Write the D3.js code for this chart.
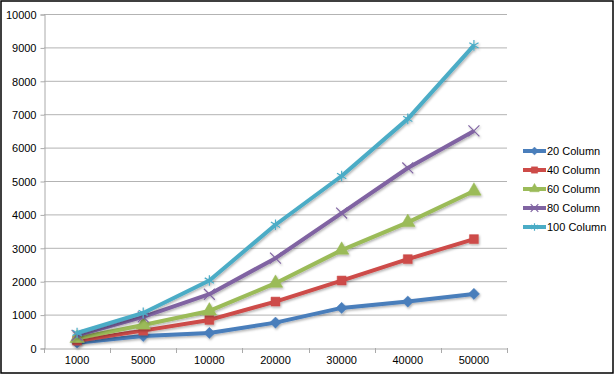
<!DOCTYPE html>
<html>
<head>
<meta charset="utf-8">
<script src="https://cdn.jsdelivr.net/npm/d3@7"></script>
<style>
  body { margin: 0; background: #fff; }
  text { font-family: "Liberation Sans", Arial, sans-serif; font-size: 11px; fill: #000; }
</style>
</head>
<body>
<main></main>
<script>
// Data
const CATEGORIES = ['1000', '5000', '10000', '20000', '30000', '40000', '50000'];
const SERIES_NAMES = ['20 Column', '40 Column', '60 Column', '80 Column', '100 Column'];
const COL20 = [160, 360, 450, 760, 1200, 1390, 1620];
const COL40 = [220, 520, 840, 1390, 2020, 2660, 3260];
const COL60 = [290, 690, 1110, 1940, 2930, 3760, 4700];
const COL80 = [380, 930, 1610, 2690, 4040, 5390, 6500];
const COL100 = [450, 1050, 2020, 3690, 5150, 6860, 9060];
const Y_TICKS = [0, 1000, 2000, 3000, 4000, 5000, 6000, 7000, 8000, 9000, 10000];
const COLORS = ['#4a7ebb', '#cd4b48', '#9bbb59', '#8064a2', '#4bacc6'];
const MARKERS = [d3.symbolDiamond2, d3.symbolSquare, d3.symbolTriangle, d3.symbolX, d3.symbolAsterisk];

const WIDTH = 615;
const HEIGHT = 375;
const LEFT = 44, RIGHT = 507, TOP = 14, BOTTOM = 348;

const series = [COL20, COL40, COL60, COL80, COL100].map((values, i) => ({
  name: SERIES_NAMES[i],
  color: COLORS[i],
  marker: MARKERS[i],
  values,
}));

const svg = d3.select('main')
  .append('svg')
  .attr('width', WIDTH)
  .attr('height', HEIGHT);

// shadow
const defs = svg.append('defs');
const filter = defs.append('filter').attr('id', 'shadow')
  .attr('x', '-20%').attr('y', '-20%').attr('width', '140%').attr('height', '140%');
filter.append('feDropShadow')
  .attr('dx', 1).attr('dy', 1.5).attr('stdDeviation', 1)
  .attr('flood-color', '#000').attr('flood-opacity', 0.3);

// Border
svg.append('rect')
  .attr('x', 1).attr('y', 1)
  .attr('width', 612).attr('height', 372)
  .attr('fill', '#fff')
  .attr('stroke', '#000')
  .attr('stroke-width', 1.5);

// Scales
const xScale = d3.scaleBand(CATEGORIES, [LEFT, RIGHT]);
const yScale = d3.scaleLinear([0, 10000], [BOTTOM, TOP]);

// Grid lines
svg.append('g')
  .selectAll('line')
  .data(Y_TICKS.filter(d => d > 0))
  .enter()
  .append('line')
  .attr('x1', LEFT).attr('x2', RIGHT)
  .attr('y1', d => yScale(d) + 0.5).attr('y2', d => yScale(d) + 0.5)
  .attr('stroke', '#b3b3b3')
  .attr('stroke-width', 1);

// Y Axis
const yAxis = d3.axisLeft(yScale).tickValues(Y_TICKS).tickFormat(d3.format('d')).tickSize(4).tickPadding(4);
const gy = svg.append('g')
  .attr('transform', `translate(${LEFT + 0.5}, 0.5)`)
  .call(yAxis);
gy.select('.domain').attr('stroke', '#aaa');
gy.selectAll('.tick line').attr('stroke', '#aaa');
gy.selectAll('text').attr('fill', '#000').style('font-size', '11px').attr('dy', '0.35em');

// X Axis
const xAxis = d3.axisBottom(xScale).tickSize(0).tickPadding(8);
const gx = svg.append('g')
  .attr('transform', `translate(0, ${BOTTOM + 0.5})`)
  .call(xAxis);
gx.select('.domain').attr('stroke', '#aaa');
gx.selectAll('text').attr('fill', '#000').style('font-size', '11px');

// Ticks between categories
svg.append('g')
  .selectAll('line')
  .data(CATEGORIES.concat(['end']))
  .enter()
  .append('line')
  .attr('x1', (d, i) => Math.round(LEFT + xScale.step() * i) + 0.5)
  .attr('x2', (d, i) => Math.round(LEFT + xScale.step() * i) + 0.5)
  .attr('y1', BOTTOM)
  .attr('y2', BOTTOM + 5)
  .attr('stroke', '#aaa');

const cx = c => xScale(c) + xScale.bandwidth() / 2;

const line = d3.line()
  .x((d, i) => cx(CATEGORIES[i]))
  .y(d => yScale(d));

// Lines and markers
const gs = svg.append('g')
  .selectAll('g')
  .data(series)
  .enter()
  .append('g')
  .attr('filter', 'url(#shadow)');

gs.append('path')
  .attr('d', d => line(d.values))
  .attr('fill', 'none')
  .attr('stroke', d => d.color)
  .attr('stroke-width', 4)
  .attr('stroke-linejoin', 'round');

function drawMarker(sel, s, size) {
  const isLine = s.marker === d3.symbolX || s.marker === d3.symbolAsterisk;
  sel.attr('d', d3.symbol(s.marker, size)())
    .attr('fill', isLine ? 'none' : s.color)
    .attr('stroke', s.color)
    .attr('stroke-width', isLine ? 1.2 : 0.5);
}

gs.each(function (s) {
  d3.select(this)
    .selectAll('path.marker')
    .data(s.values)
    .enter()
    .append('path')
    .attr('class', 'marker')
    .attr('transform', (d, i) => `translate(${cx(CATEGORIES[i])}, ${yScale(d)})`)
    .each(function () { drawMarker(d3.select(this), s, s.marker === d3.symbolTriangle ? 90 : 80); });
});

// Legend
const legend = svg.append('g')
  .selectAll('g')
  .data(series)
  .enter()
  .append('g')
  .attr('transform', (d, i) => `translate(523, ${151 + i * 19})`);

legend.append('line')
  .attr('x1', 0).attr('x2', 23)
  .attr('stroke', d => d.color)
  .attr('stroke-width', 4);

legend.append('path')
  .attr('transform', 'translate(11.5, 0)')
  .each(function (s) { drawMarker(d3.select(this), s, 40); });

legend.append('text')
  .attr('x', 24)
  .attr('dy', '0.35em')
  .text(d => d.name);
</script>
</body>
</html>
